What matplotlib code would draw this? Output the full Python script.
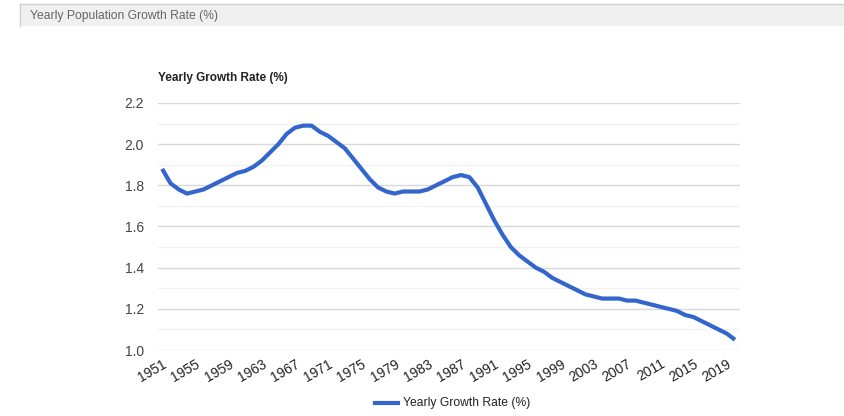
import numpy as np
import matplotlib.pyplot as plt
from matplotlib.patches import Rectangle
from matplotlib.lines import Line2D

plt.rcParams['font.family'] = ['Liberation Sans', 'DejaVu Sans']

# yearly world population growth rate
years = list(range(1951, 2021))
growth = [1.88, 1.81, 1.78, 1.76, 1.77, 1.78, 1.80, 1.82, 1.84, 1.86,
          1.87, 1.89, 1.92, 1.96, 2.00, 2.05, 2.08, 2.09, 2.09, 2.06,
          2.04, 2.01, 1.98, 1.93, 1.88, 1.83, 1.79, 1.77, 1.76, 1.77,
          1.77, 1.77, 1.78, 1.80, 1.82, 1.84, 1.85, 1.84, 1.79, 1.71,
          1.63, 1.56, 1.50, 1.46, 1.43, 1.40, 1.38, 1.35, 1.33, 1.31,
          1.29, 1.27, 1.26, 1.25, 1.25, 1.25, 1.24, 1.24, 1.23, 1.22,
          1.21, 1.20, 1.19, 1.17, 1.16, 1.14, 1.12, 1.10, 1.08, 1.05]
tick_years = list(range(1951, 2021, 4))
yticks = [1.0, 1.2, 1.4, 1.6, 1.8, 2.0, 2.2]

W, H = 844, 416
fig = plt.figure(figsize=(W/100, H/100), dpi=100)

# grey header strip
fig.patches.append(Rectangle((20/W, 1-26/H), 1, 22/H, transform=fig.transFigure,
                             facecolor='#f0f0f0', edgecolor='none'))
fig.add_artist(Line2D([20/W, 1], [1-4/H, 1-4/H], color='#d0d0d0', lw=1))
fig.add_artist(Line2D([20/W, 20/W], [1-4/H, 1-26/H], color='#d0d0d0', lw=1))
fig.text(30/W, 1-16/H, "Yearly Population Growth Rate (%)", fontsize=8.7,
         color='#666666', va='center', ha='left')

ax = fig.add_axes([158/W, 1-350/H, (740-158)/W, (350-103)/H])
ax.plot(years, growth, color='#3366CC', lw=3.0, solid_joinstyle='round',
        solid_capstyle='butt', zorder=3)

ax.set_ylim(1.0, 2.2)
ax.set_xlim(1950.5, 2020.6)
ax.set_yticks(yticks)
ax.set_yticklabels([f"{v:.1f}" for v in yticks])
ax.set_yticks(np.arange(1.1, 2.2, 0.2), minor=True)
ax.set_xticks(tick_years)
ax.set_xticklabels([str(y) for y in tick_years], rotation=30, ha='right',
                   rotation_mode='anchor')
ax.grid(axis='y', which='major', color='#d8d8d8', lw=1)
ax.grid(axis='y', which='minor', color='#f2f2f2', lw=1)
ax.set_axisbelow(True)
for s in ax.spines.values():
    s.set_visible(False)
ax.tick_params(axis='both', which='both', length=0)
ax.tick_params(axis='y', labelsize=10, labelcolor='#444444', pad=10)
ax.tick_params(axis='x', labelsize=10, labelcolor='#222222', pad=5)

fig.text(158/W, 1-78/H, "Yearly Growth Rate (%)", fontsize=8.5,
         fontweight='bold', color='#222222', va='center', ha='left')

# legend
fig.add_artist(Line2D([375/W, 398/W], [1-403/H, 1-403/H], color='#3366CC', lw=3))
fig.text(403/W, 1-403/H, "Yearly Growth Rate (%)", fontsize=8.7,
         color='#222222', va='center', ha='left')

fig.savefig("out.png", dpi=100)
